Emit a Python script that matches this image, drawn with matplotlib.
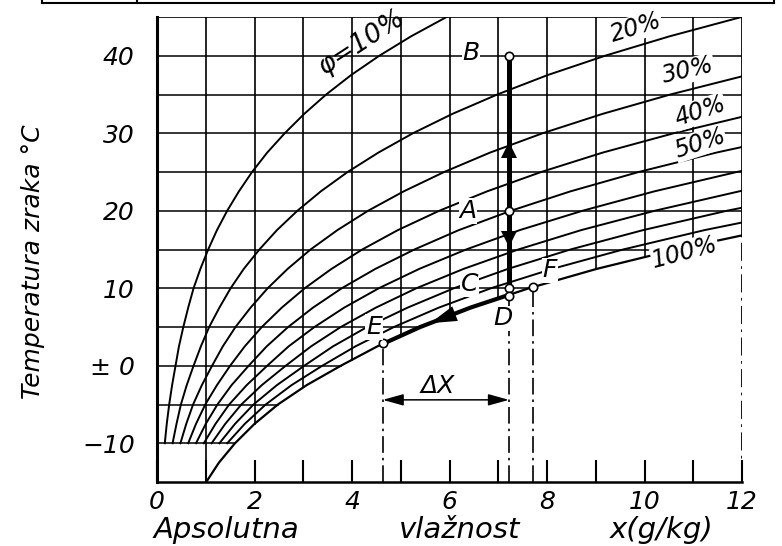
import numpy as np
import matplotlib
matplotlib.use('Agg')
import matplotlib.pyplot as plt
from matplotlib.lines import Line2D

# temperature steps (deg C) for the relative humidity curves
temps = [-10, -7.5, -5, -2.5, 0, 2.5, 5, 7.5, 10, 12.5, 15, 17.5, 20, 22.5,
         25, 27.5, 30, 32.5, 35, 37.5, 40, 42.5, 45]

# absolute humidity x (g/kg), same order as temps
x_rh10 = [0.16, 0.20, 0.25, 0.31, 0.38, 0.45, 0.54, 0.64, 0.75, 0.89, 1.05, 1.23,
          1.44, 1.68, 1.95, 2.26, 2.62, 3.02, 3.47, 3.98, 4.56, 5.21, 5.94]
x_rh20 = [0.32, 0.40, 0.49, 0.61, 0.75, 0.90, 1.07, 1.28, 1.51, 1.78, 2.10, 2.46,
          2.88, 3.36, 3.91, 4.54, 5.25, 6.06, 6.98, 8.01, 9.19, 10.51, 11.99]
x_rh30 = [0.48, 0.60, 0.74, 0.92, 1.13, 1.35, 1.61, 1.92, 2.27, 2.68, 3.15, 3.70,
          4.33, 5.06, 5.89, 6.83, 7.91, 9.14, 10.53, 12.10]
x_rh40 = [0.64, 0.80, 0.99, 1.23, 1.50, 1.80, 2.15, 2.56, 3.03, 3.58, 4.21, 4.94,
          5.79, 6.77, 7.88, 9.14, 10.60, 12.25]
x_rh50 = [0.80, 1.00, 1.24, 1.53, 1.88, 2.25, 2.69, 3.20, 3.79, 4.48, 5.28, 6.19,
          7.26, 8.48, 9.88, 11.47, 13.30]
x_rh60 = [0.96, 1.20, 1.48, 1.84, 2.26, 2.70, 3.23, 3.84, 4.55, 5.38, 6.34, 7.44,
          8.73, 10.20, 11.89, 13.82]
x_rh70 = [1.12, 1.40, 1.73, 2.15, 2.64, 3.16, 3.77, 4.49, 5.32, 6.29, 7.41, 8.70,
          10.21, 11.94, 13.91]
x_rh80 = [1.28, 1.60, 1.98, 2.46, 3.02, 3.61, 4.31, 5.14, 6.09, 7.20, 8.48, 9.97,
          11.69, 13.68]
x_rh90 = [1.44, 1.80, 2.23, 2.76, 3.39, 4.07, 4.86, 5.78, 6.85, 8.11, 9.56, 11.23,
          13.19]

# saturation curve (100 %)
sat_temps = [-15, -12.5, -10, -7.5, -5, -2.5, 0, 2.5, 5, 7.5, 10, 12.5, 15, 17.5]
x_sat = [1.01, 1.27, 1.60, 2.00, 2.48, 3.07, 3.77, 4.52, 5.40, 6.43, 7.63, 9.02,
         10.64, 12.51]

# state points
pt_names = ['B', 'A', 'C', 'D', 'E', 'F']
pt_x = [7.22, 7.22, 7.22, 7.22, 4.63, 7.72]
pt_t = [40.0, 20.0, 10.0, 9.0, 3.0, 10.1]

curve_labels = ['φ=10%', '20%', '30%', '40%', '50%', '100%']
x_ticks = [0, 2, 4, 6, 8, 10, 12]
y_ticks = [-10, 0, 10, 20, 30, 40]
y_tick_labels = ['\u221210', '\u00b1 0', '10', '20', '30', '40']

K = 'black'
ital = dict(fontstyle='italic', family='DejaVu Sans', color=K)
dashdot = (0, (10, 3, 1.5, 3))

fig = plt.figure(figsize=(7.82, 5.46), dpi=100)
ax = fig.add_axes([157 / 782, 64 / 546, 585 / 782, 465 / 546])
ax.set_xlim(0, 12)
ax.set_ylim(-15, 45)

# humidity curves
for xs in [x_rh10, x_rh20, x_rh30, x_rh40, x_rh50, x_rh60, x_rh70, x_rh80, x_rh90]:
    ax.plot(xs, temps[:len(xs)], color=K, lw=1.4)
ax.plot(x_sat, sat_temps, color=K, lw=1.6)

# grid: verticals stop at the saturation curve
for k in range(1, 13):
    t0 = np.interp(k, x_sat, sat_temps)
    ax.plot([k, k], [t0, 45], color=K, lw=1.2 if k < 12 else 2.0)
ax.plot([12, 12], [-15, np.interp(12, x_sat, sat_temps)], color=K, lw=1.3,
        ls=dashdot)
for t in range(-10, 45, 5):
    x_end = min(12, np.interp(t, sat_temps, x_sat))
    ax.plot([0, x_end], [t, t], color=K, lw=1.1)
ax.plot([0, 12], [45, 45], color=K, lw=1.2)

# dash-dot projections down to the x axis
for i in [3, 4, 5]:
    ax.plot([pt_x[i], pt_x[i]], [-15, pt_t[i]], color=K, lw=1.2, ls=dashdot)

# heating / cooling line B -> C
ax.plot([pt_x[0], pt_x[2]], [pt_t[0], pt_t[2]], color=K, lw=3.6)
ax.plot([pt_x[0]], [27.8], marker='^', ms=11, color=K, mew=0)
ax.plot([pt_x[0]], [16.3], marker='v', ms=11, color=K, mew=0)

# dehumidifying along saturation D -> E
seg_x = [pt_x[4]] + [v for v in x_sat if pt_x[4] < v < pt_x[3]] + [pt_x[3]]
seg_t = list(np.interp(seg_x, x_sat, sat_temps))
ax.plot(seg_x, seg_t, color=K, lw=3.0)
ax.annotate('', xy=(5.55, np.interp(5.55, x_sat, sat_temps)),
            xytext=(6.5, np.interp(6.5, x_sat, sat_temps)),
            arrowprops=dict(arrowstyle='-|>,head_length=1.2,head_width=0.35',
                            color=K, lw=0, mutation_scale=16))

# delta x dimension
ax.annotate('', xy=(pt_x[4], -4.4), xytext=(pt_x[3], -4.4),
            arrowprops=dict(arrowstyle='<|-|>,head_length=0.9,head_width=0.25',
                            color=K, lw=1.1, mutation_scale=14,
                            shrinkA=0, shrinkB=0))
ax.text(5.75, -2.6, '\u0394X', fontsize=18, ha='center', va='center', **ital)

# state points and letters
ax.plot(pt_x, pt_t, 'o', ms=6, mfc='white', mec=K, mew=1.2, zorder=5)
lab_x = [6.44, 6.38, 6.42, 7.10, 4.45, 8.06]
lab_t = [40.4, 20.0, 10.5, 6.1, 5.0, 12.3]
for name, lx, lt in zip(pt_names, lab_x, lab_t):
    ax.text(lx, lt, name, fontsize=18, ha='center', va='center', zorder=6,
            bbox=dict(fc='white', ec='none', pad=0.5), **ital)

# curve labels (the 10 % label sits beside its curve, the others on it)
ax.text(4.2, 41.7, curve_labels[0], fontsize=19, ha='center', va='center',
        rotation=33, rotation_mode='anchor', zorder=6, **ital)
lab_cx = [9.83, 10.9, 11.14, 11.14, 10.83]
lab_ct = [43.6, 38.1, 32.8, 28.7, 14.6]
lab_rot = [17, 13, 18, 18, 15]
for s, cx, ct, r in zip(curve_labels[1:], lab_cx, lab_ct, lab_rot):
    ax.text(cx, ct, s, fontsize=17, ha='center', va='center', rotation=r,
            rotation_mode='anchor', zorder=6, clip_on=False,
            bbox=dict(fc='white', ec='none', pad=0.3), **ital)

# axes and ticks
for side in ['top', 'right']:
    ax.spines[side].set_visible(False)
ax.spines['left'].set_linewidth(2.2)
ax.spines['bottom'].set_linewidth(1.8)
ax.set_xticks(x_ticks)
ax.set_xticks([1, 3, 5, 7, 9, 11], minor=True)
ax.set_xticklabels([str(v) for v in x_ticks], fontsize=18, fontstyle='italic')
ax.tick_params(axis='x', which='both', direction='in', length=16, width=1.5,
               pad=6)
ax.set_yticks(y_ticks)
ax.set_yticklabels(y_tick_labels, fontsize=18, fontstyle='italic')
ax.tick_params(axis='y', length=0, pad=16)

# x axis title, words spread as in the original lettering
base = 8 / 546
fig.text(226 / 782, base, 'Apsolutna', fontsize=21, ha='center',
         va='baseline', **ital)
fig.text(460 / 782, base, 'vlažnost', fontsize=21, ha='center',
         va='baseline', **ital)
fig.text(662 / 782, base, 'x(g/kg)', fontsize=21, ha='center',
         va='baseline', **ital)
fig.text(33 / 782, 1 - 262 / 546, 'Temperatura zraka °C', fontsize=18,
         rotation=90, ha='center', va='center', **ital)

# cut-off table frame at the very top
ytop = 1 - 3 / 546
fig.add_artist(Line2D([42 / 782, 774 / 782], [ytop, ytop], color=K, lw=1.5))
for xp in [42, 137, 774]:
    fig.add_artist(Line2D([xp / 782, xp / 782], [ytop, 1], color=K, lw=1.5))

fig.savefig('out.png', dpi=100, facecolor='white')
